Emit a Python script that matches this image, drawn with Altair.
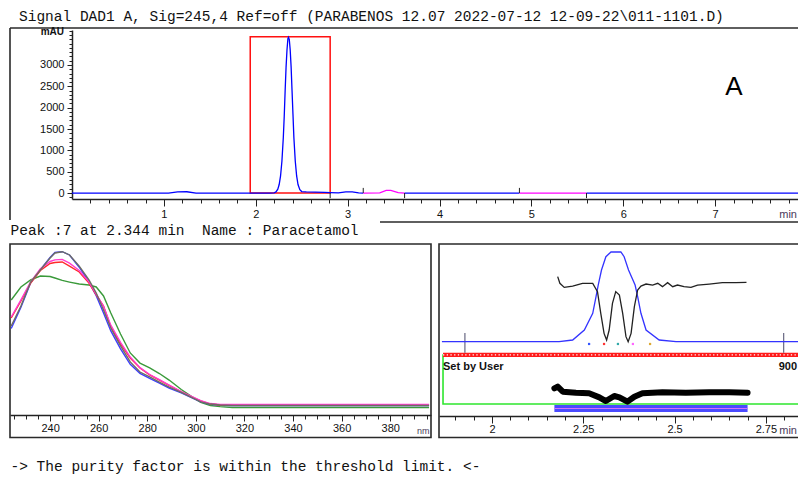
import altair as alt
import pandas as pd

W, H = 790, 466
SANS = "Liberation Sans"
MONO = "Liberation Mono"
FRAME = "#2a2a2a"

# ---------------------------------------------------------------- data
# Chromatogram, Signal DAD1 A (Sig=245,4)
chrom_time = [0.0, 1.05, 1.15, 1.25, 1.35, 1.94, 2.15, 2.20, 2.22, 2.24, 2.255, 2.27,
              2.285, 2.30, 2.31, 2.32, 2.33, 2.34, 2.35, 2.356, 2.365, 2.375, 2.385,
              2.395, 2.405, 2.415, 2.43, 2.445, 2.46, 2.48, 2.50, 2.55, 2.65, 2.75,
              2.81, 2.90, 2.98, 3.05, 3.12, 3.17, 3.35, 3.42, 3.47, 3.55, 3.62, 4.87,
              5.60, 8.0]
chrom_mau = [0, 0, 25, 30, 0, 0, 0, 5, 25, 90, 200, 400,
             750, 1300, 1800, 2400, 2950, 3350, 3620, 3650, 3600, 3350, 2950,
             2400, 1850, 1300, 750, 400, 200, 80, 35, 25, 20, 15,
             10, 5, 25, 25, 5, 0, 5, 60, 60, 10, 0, 0,
             0, 0]
seg_start = [0.0, 3.17, 3.62, 4.87, 5.60]
seg_end = [3.17, 3.62, 4.87, 5.60, 8.0]
seg_kind = ["baseline", "event", "baseline", "event", "baseline"]
event_time = [2.81, 3.17, 3.62, 4.87, 5.60]
event_dir = [-1, 1, -1, 1, -1]
win_start, win_end, win_top = 1.94, 2.81, 3660

# UV spectra across the peak (normalised %)
wl = [224, 228, 232, 236, 240, 242, 245, 248, 252, 256, 259, 262, 265, 269, 273,
      277, 281, 285, 289, 294, 298, 302, 306, 310, 315, 320, 340, 360, 380, 396]
spec_green = [70.4, 78.4, 82.7, 85.1, 84.8, 83.9, 82.4, 81.4, 80.2, 79.6, 78.4, 72.9,
              62.5, 49.6, 38.0, 31.8, 28.8, 25.4, 21.4, 15.6, 11.6, 7.7, 5.8, 5.1,
              4.6, 4.6, 4.6, 4.6, 4.6, 4.6]
spec_blue = [53.0, 66.0, 81.0, 89.0, 96.5, 99.5, 100.0, 98.0, 90.5, 81.5, 73.0, 62.5,
             51.5, 40.5, 31.0, 25.5, 22.5, 19.5, 16.5, 13.5, 10.8, 8.0, 6.5, 6.0,
             5.8, 5.8, 5.8, 5.8, 5.8, 5.8]
spec_red = [59.4, 69.8, 80.8, 88.5, 92.8, 93.4, 93.7, 91.2, 87.6, 80.8, 73.5, 66.7,
            53.9, 43.5, 34.9, 28.8, 24.5, 21.4, 18.1, 14.1, 11.3, 8.6, 6.7, 6.1,
            6.1, 6.1, 6.1, 6.1, 6.1, 6.1]
spec_magenta = [60.0, 70.5, 81.5, 89.5, 94.0, 95.0, 95.3, 93.0, 88.5, 81.5, 74.0, 66.5,
                55.0, 44.5, 35.5, 29.0, 24.8, 21.6, 18.3, 14.3, 11.5, 8.8, 7.0, 6.5,
                6.5, 6.5, 6.5, 6.5, 6.5, 6.5]
spec_gray = [54.5, 66.7, 81.4, 88.8, 96.1, 99.2, 100.0, 98.0, 91.2, 82.7, 74.7, 64.3,
             53.3, 42.3, 32.5, 26.3, 23.3, 20.2, 17.1, 13.8, 11.0, 8.0, 6.7, 6.1,
             5.8, 5.8, 5.8, 5.8, 5.8, 5.8]
spec_names = ["spec 1", "spec 2", "spec 3", "spec 4", "spec 5"]
spec_colors = ["#3a9a3a", "#3c3cff", "#ff2a2a", "#ff3ccf", "#6e6e62"]

# Purity plot
peak_t = [1.863, 2.184, 2.221, 2.253, 2.276, 2.285, 2.291, 2.300, 2.312, 2.326, 2.353,
          2.362, 2.374, 2.392, 2.399, 2.408, 2.422, 2.458, 2.504, 2.849]
peak_v = [0.4, 0.4, 2.2, 13.3, 31.9, 50.4, 63.3, 80.0, 94.8, 100.0, 100.0,
          94.8, 80.0, 63.3, 50.4, 31.9, 13.3, 2.2, 0.4, 0.4]
purity_t = [2.180, 2.186, 2.198, 2.221, 2.248, 2.276, 2.289, 2.298, 2.307, 2.314, 2.321,
            2.330, 2.339, 2.349, 2.358, 2.367, 2.373, 2.381, 2.390, 2.399, 2.408, 2.422,
            2.440, 2.454, 2.467, 2.481, 2.495, 2.508, 2.526, 2.545, 2.563, 2.595, 2.631,
            2.668, 2.697]
purity_v = [72.6, 65.2, 60.7, 62.2, 65.2, 65.2, 56.0, 31.9, 9.6, 2.2, 13.3,
            43.0, 56.0, 52.2, 31.9, 5.9, 0.3, 9.6, 39.3, 57.8, 62.2, 64.4,
            63.3, 65.2, 61.5, 65.9, 61.5, 63.3, 61.5, 60.7, 63.3, 64.4, 65.9,
            65.9, 66.3]
spot_t = [2.266, 2.307, 2.345, 2.386, 2.433]
spot_v = [-2.2, -2.2, -2.2, -2.2, -2.2]
spot_id = ["1", "2", "3", "4", "5"]
spot_colors = ["#3355ff", "#ff3333", "#33aaaa", "#ff66ff", "#ddaa33"]
limit_t = [1.926, 2.799]
box_t1, box_t2, box_top, box_bot = 1.866, 2.851, -14.4, -68.9
ratio_t = [2.171, 2.180, 2.194, 2.230, 2.266, 2.294, 2.312, 2.335, 2.349, 2.371, 2.390,
           2.412, 2.467, 2.531, 2.595, 2.650, 2.700]
ratio_v = [-51.5, -49.6, -55.2, -56.3, -57.0, -61.5, -65.6, -60.0, -61.5, -66.3, -60.8,
           -57.0, -55.9, -56.3, -55.9, -55.9, -56.3]
noise_t1, noise_t2, noise_top, noise_bot = 2.171, 2.700, -70.0, -77.8

# ---------------------------------------------------------------- helpers
def text_layer(s, x, y, size=11, font=SANS, weight="normal", align="left", color="#111"):
    return alt.Chart(pd.DataFrame({"s": [s]})).mark_text(
        align=align, baseline="alphabetic", font=font, fontSize=size,
        fontWeight=weight, color=color).encode(text="s:N", x=alt.value(x), y=alt.value(y))


def box(x1, x2, y1, y2):
    return alt.Chart(pd.DataFrame({"k": [0]})).mark_rect(
        fillOpacity=0, stroke=FRAME, strokeWidth=1.6).encode(
        x=alt.value(x1), x2=alt.value(x2), y=alt.value(y1), y2=alt.value(y2))


def hline(x1, x2, y):
    return alt.Chart(pd.DataFrame({"k": [0]})).mark_rule(color=FRAME, strokeWidth=1.6).encode(
        x=alt.value(x1), x2=alt.value(x2), y=alt.value(y))


def vline(x, y1, y2):
    return alt.Chart(pd.DataFrame({"k": [0]})).mark_rule(color=FRAME, strokeWidth=1.6).encode(
        x=alt.value(x), y=alt.value(y1), y2=alt.value(y2))

# ---------------------------------------------------------------- top panel
rows = []
for i, (a, b, k) in enumerate(zip(seg_start, seg_end, seg_kind)):
    for t, v in zip(chrom_time, chrom_mau):
        if a <= t <= b:
            rows.append({"t": t, "mAU": v, "seg": i, "kind": k})
trace_df = pd.DataFrame(rows)

tx = alt.Scale(domain=[0, 8], range=[64, 799], nice=False, zero=False)
ty = alt.Scale(domain=[-140, 3820], range=[191, 22], nice=False, zero=False)
top_x_major = alt.Axis(orient="bottom", offset=191 - H, values=[1, 2, 3, 4, 5, 6, 7],
                       format="d", tickSize=7, labelPadding=2, title=None,
                       labelFlush=False, domainWidth=1.5)
top_x_minor = alt.Axis(orient="bottom", offset=191 - H,
                       values=[round(0.2 * i, 1) for i in range(1, 40)],
                       tickSize=4, labels=False, domain=False, title=None)
top_y_major = alt.Axis(orient="left", offset=-64, values=list(range(0, 3001, 500)),
                       format="d", tickSize=5, labelPadding=3, title=None, domainWidth=1.5)
top_y_minor = alt.Axis(orient="left", offset=-64, values=list(range(-100, 3801, 100)),
                       tickSize=3, labels=False, domain=False, title=None)

win_df = pd.DataFrame({"t1": [win_start], "t2": [win_end], "y1": [0], "y2": [win_top]})
window = alt.Chart(win_df).mark_rect(fillOpacity=0, stroke="#ff1010", strokeWidth=1.5).encode(
    x=alt.X("t1:Q", scale=tx, axis=None), x2="t2:Q",
    y=alt.Y("y1:Q", scale=ty, axis=None), y2="y2:Q")

trace = alt.Chart(trace_df).mark_line(strokeWidth=1.3).encode(
    x=alt.X("t:Q", scale=tx, axis=top_x_major),
    y=alt.Y("mAU:Q", scale=ty, axis=top_y_major),
    color=alt.Color("kind:N", scale=alt.Scale(domain=["baseline", "event"],
                                              range=["#0000ff", "#ff00ff"]), legend=None),
    detail="seg:N")

ev_df = pd.DataFrame({"t": event_time, "dir": event_dir})
ev_df["y0"] = 0
ev_df["y1"] = ev_df["dir"] * 120
events = alt.Chart(ev_df).mark_rule(color="#222", strokeWidth=1).encode(
    x=alt.X("t:Q", scale=tx, axis=top_x_minor),
    y=alt.Y("y0:Q", scale=ty, axis=top_y_minor), y2="y1:Q")

top = alt.layer(window, trace, events).resolve_axis(x="independent", y="independent")

# ---------------------------------------------------------------- spectra panel
spec_rows = []
for name, arr in zip(spec_names, [spec_green, spec_blue, spec_red, spec_magenta, spec_gray]):
    for w, v in zip(wl, arr):
        spec_rows.append({"wl": w, "abs": v, "spec": name})
spec_df = pd.DataFrame(spec_rows)

lx = alt.Scale(domain=[223.5, 396.8], range=[2, 423], nice=False, zero=False)
ly = alt.Scale(domain=[0, 100], range=[407, 243.7], nice=False, zero=False)
left_major = alt.Axis(orient="bottom", offset=407 - H, values=list(range(240, 381, 20)),
                      format="d", tickSize=6, labelPadding=1, title=None,
                      labelFlush=False, domainWidth=1.5)
left_minor = alt.Axis(orient="bottom", offset=407 - H, values=list(range(225, 396, 5)),
                      tickSize=4, labels=False, domain=False, title=None)
spec_color = alt.Color("spec:N", scale=alt.Scale(domain=spec_names, range=spec_colors),
                       legend=None)

spec_a = alt.Chart(spec_df[spec_df["spec"] == spec_names[0]]).mark_line(strokeWidth=1.4).encode(
    x=alt.X("wl:Q", scale=lx, axis=left_major),
    y=alt.Y("abs:Q", scale=ly, axis=None), color=spec_color)
spec_b = alt.Chart(spec_df[spec_df["spec"] != spec_names[0]]).mark_line(strokeWidth=1.4).encode(
    x=alt.X("wl:Q", scale=lx, axis=left_minor),
    y=alt.Y("abs:Q", scale=ly, axis=None), color=spec_color)
left = alt.layer(spec_a, spec_b).resolve_axis(x="independent")

# ---------------------------------------------------------------- purity panel
rx = alt.Scale(domain=[1.855, 2.86], range=[431, 798], nice=False, zero=False)
ry = alt.Scale(domain=[0, 100], range=[334, 244], nice=False, zero=False)
right_major = alt.Axis(orient="bottom", offset=408 - H, values=[2, 2.25, 2.5, 2.75],
                       labelExpr="toString(datum.value)", tickSize=7, labelPadding=0,
                       title=None, labelFlush=False, domainWidth=1.5)
right_minor = alt.Axis(orient="bottom", offset=408 - H,
                       values=[round(1.9 + 0.05 * i, 2) for i in range(20)],
                       tickSize=4, labels=False, domain=False, title=None)

bx_df = pd.DataFrame({"t1": [box_t1], "t2": [box_t2], "top": [box_top], "bot": [box_bot]})
green_box = alt.Chart(bx_df).mark_rect(fillOpacity=0, stroke="#2ee62e", strokeWidth=1.6).encode(
    x=alt.X("t1:Q", scale=rx, axis=None), x2="t2:Q",
    y=alt.Y("top:Q", scale=ry, axis=None), y2="bot:Q")
red_line = alt.Chart(bx_df).mark_rule(color="#ff1a1a", strokeWidth=4.2).encode(
    x=alt.X("t1:Q", scale=rx, axis=None), x2="t2:Q",
    y=alt.Y("top:Q", scale=ry, axis=None))
red_dots = alt.Chart(bx_df).mark_rule(color="white", strokeWidth=1.3, strokeDash=[1.3, 2.4]).encode(
    x=alt.X("t1:Q", scale=rx, axis=None), x2="t2:Q",
    y=alt.Y("top:Q", scale=ry, axis=None))

nz_df = pd.DataFrame({"t1": [noise_t1], "t2": [noise_t2], "top": [noise_top], "bot": [noise_bot]})
nz_df["mid"] = (nz_df["top"] + nz_df["bot"]) / 2
noise_band = alt.Chart(nz_df).mark_rect(fill="#4a4aff").encode(
    x=alt.X("t1:Q", scale=rx, axis=None), x2="t2:Q",
    y=alt.Y("top:Q", scale=ry, axis=None), y2="bot:Q")
noise_mid = alt.Chart(nz_df).mark_rule(color="#d070ff", strokeWidth=1).encode(
    x=alt.X("t1:Q", scale=rx, axis=None), x2="t2:Q",
    y=alt.Y("mid:Q", scale=ry, axis=None))

ratio = alt.Chart(pd.DataFrame({"t": ratio_t, "v": ratio_v})).mark_line(
    color="black", strokeWidth=6, strokeCap="round", strokeJoin="round").encode(
    x=alt.X("t:Q", scale=rx, axis=None), y=alt.Y("v:Q", scale=ry, axis=None))

lim_df = pd.DataFrame({"t": limit_t})
lim_df["y1"] = 10
lim_df["y2"] = -12
limits = alt.Chart(lim_df).mark_rule(color="#4a4a6a", strokeWidth=1).encode(
    x=alt.X("t:Q", scale=rx, axis=None), y=alt.Y("y1:Q", scale=ry, axis=None), y2="y2:Q")

peak = alt.Chart(pd.DataFrame({"t": peak_t, "v": peak_v})).mark_line(
    color="#3333ff", strokeWidth=1.3).encode(
    x=alt.X("t:Q", scale=rx, axis=right_major), y=alt.Y("v:Q", scale=ry, axis=None))
purity = alt.Chart(pd.DataFrame({"t": purity_t, "v": purity_v})).mark_line(
    color="#222", strokeWidth=1.3).encode(
    x=alt.X("t:Q", scale=rx, axis=right_minor), y=alt.Y("v:Q", scale=ry, axis=None))
spots = alt.Chart(pd.DataFrame({"t": spot_t, "v": spot_v, "id": spot_id})).mark_square(
    size=5, opacity=1).encode(
    x=alt.X("t:Q", scale=rx, axis=None), y=alt.Y("v:Q", scale=ry, axis=None),
    color=alt.Color("id:N", scale=alt.Scale(domain=spot_id, range=spot_colors), legend=None))

right = alt.layer(green_box, red_line, red_dots, noise_band, noise_mid, ratio, limits,
                  peak, purity, spots).resolve_axis(x="independent")

# ---------------------------------------------------------------- frames & texts
frames = [
    vline(2, 20, 212), hline(2, 800, 20), hline(372, 800, 214),
    box(2, 423, 236, 429.5), box(431, 800, 236, 429.5),
]
texts = [
    text_layer("Signal DAD1 A, Sig=245,4 Ref=off (PARABENOS 12.07 2022-07-12 12-09-22\\011-1101.D)",
               11, 12.5, size=14.5, font=MONO),
    text_layer("Peak :7 at 2.344 min \u00a0Name : Paracetamol", 2.5, 226.5, size=14.5, font=MONO),
    text_layer("-> The purity factor is within the threshold limit. <-", 2.5, 462.5,
               size=14.5, font=MONO),
    text_layer("A", 726, 87, size=26, align="center", color="#000"),
    text_layer("mAU", 56, 27, size=10, weight="bold", align="right"),
    text_layer("min", 789, 209.5, size=11, align="right", color="#4a3a5a"),
    text_layer("min", 789, 426, size=11, align="right", color="#4a3a5a"),
    text_layer("nm", 409, 426, size=9, color="#4a3a5a"),
    text_layer("Set by User", 435, 362, size=11, weight="bold"),
    text_layer("900", 789, 362, size=11, weight="bold", align="right"),
]

chart = alt.layer(*frames, top, left, right, *texts).resolve_scale(
    x="independent", y="independent", color="independent"
).properties(
    width=W, height=H, padding=0, autosize=alt.AutoSizeParams(type="none")
).configure_view(strokeWidth=0).configure_axis(
    labelFont=SANS, labelFontSize=11, labelColor="#111",
    domainColor="#222", tickColor="#222", grid=False
)

chart.save("out.html", embed_options={"renderer": "svg", "actions": False})
